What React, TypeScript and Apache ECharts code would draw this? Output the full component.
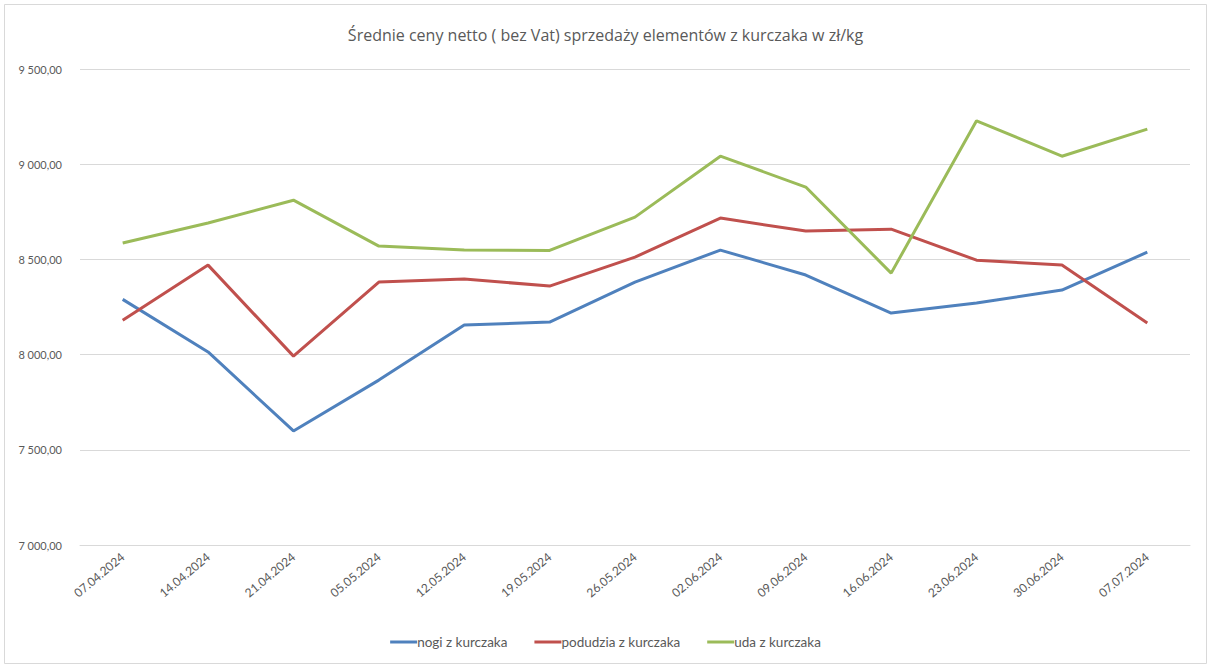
import React, { useEffect, useRef } from "react";
import * as echarts from "echarts";

const categories = [
  "07.04.2024", "14.04.2024", "21.04.2024", "05.05.2024", "12.05.2024", "19.05.2024", "26.05.2024",
  "02.06.2024", "09.06.2024", "16.06.2024", "23.06.2024", "30.06.2024", "07.07.2024",
];
const nogi = [8290, 8014, 7599, 7866, 8155, 8171, 8381, 8549, 8418, 8218, 8271, 8339, 8538];
const podudzia = [8181, 8470, 7992, 8381, 8397, 8360, 8512, 8717, 8649, 8659, 8496, 8470, 8166];
const uda = [8586, 8691, 8811, 8570, 8549, 8547, 8722, 9042, 8880, 8428, 9228, 9042, 9184];
const seriesNames = ["nogi z kurczaka", "podudzia z kurczaka", "uda z kurczaka"];
const colors = ["#4f81bd", "#c0504d", "#9bbb59"];
const title = "Średnie ceny netto ( bez Vat) sprzedaży elementów z kurczaka w zł/kg";

function fmt(v: number): string {
  const s = v.toFixed(2);
  const [i, d] = s.split(".");
  const withSp = i.replace(/\B(?=(\d{3})+(?!\d))/g, " ");
  return withSp + "," + d;
}

export default function App() {
  const ref = useRef<HTMLDivElement>(null);
  useEffect(() => {
    if (!ref.current) return;
    const chart = echarts.init(ref.current, undefined, { renderer: "svg" });
    const font = "'Open Sans', 'Noto Sans', sans-serif";
    const small = "Lato, 'Open Sans', sans-serif";
    chart.setOption({
      animation: false,
      textStyle: { fontFamily: small },
      title: {
        text: title,
        left: "center",
        top: 22,
        textStyle: { fontSize: 16, fontWeight: "normal", color: "#595959", fontFamily: font },
      },
      graphic: [
        {
          type: "rect",
          shape: { x: 4.5, y: 4.5, width: 1202, height: 659 },
          style: { fill: "none", stroke: "#d9d9d9", lineWidth: 1 },
          silent: true,
        },
      ],
      legend: {
        bottom: 14,
        left: "center",
        itemWidth: 27,
        itemHeight: 3,
        itemGap: 27,
        icon: "rect",
        textStyle: { fontSize: 13.5, color: "#595959", fontFamily: small, padding: [0, 0, 0, -5] },
        data: seriesNames,
      },
      grid: { left: 80, right: 21, top: 69, bottom: 123, containLabel: false },
      xAxis: {
        type: "category",
        data: categories,
        boundaryGap: true,
        axisLine: { show: true, lineStyle: { color: "#d9d9d9" } },
        axisTick: { show: false },
        axisLabel: { rotate: 40, fontSize: 12, color: "#595959", margin: 10 },
      },
      yAxis: {
        type: "value",
        min: 7000,
        max: 9500,
        interval: 500,
        axisLine: { show: false },
        axisTick: { show: false },
        splitLine: { lineStyle: { color: "#d9d9d9", width: 1 } },
        axisLabel: { fontSize: 11, color: "#595959", margin: 18, formatter: (v: number) => fmt(v) },
      },
      series: [nogi, podudzia, uda].map((d, i) => ({
        name: seriesNames[i],
        type: "line",
        data: d,
        symbol: "none",
        color: colors[i],
        lineStyle: { width: 3, color: colors[i] },
      })),
    });
    return () => chart.dispose();
  }, []);
  return (
    <div style={{ position: "absolute", left: 0, top: 0, width: 1211, height: 668, background: "#fff" }}>
      <div ref={ref} style={{ width: 1211, height: 668 }} />
    </div>
  );
}
